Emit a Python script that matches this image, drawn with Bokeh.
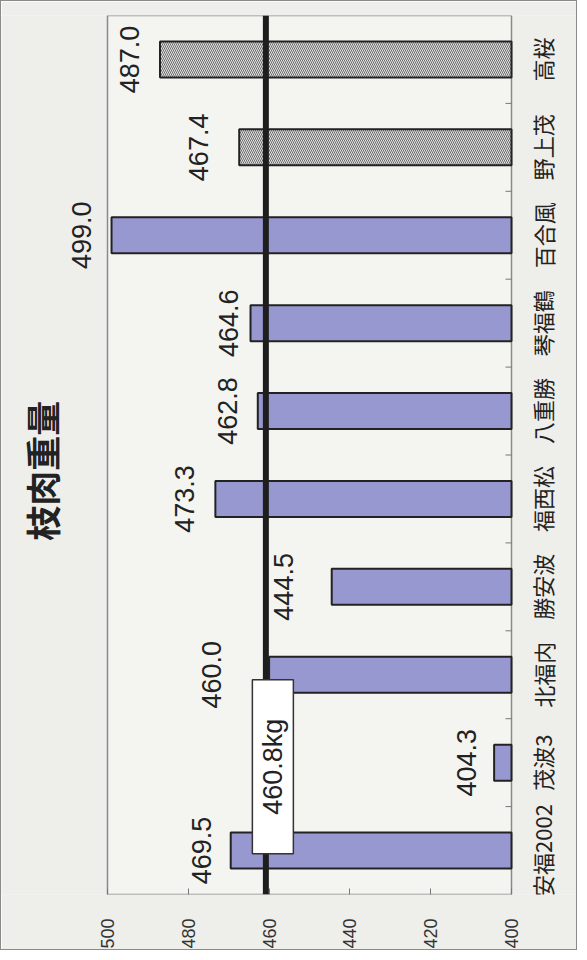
import math
from bokeh.plotting import figure
from bokeh.models import (Range1d, FixedTicker, Span, Label, LabelSet,
                          ColumnDataSource, BoxAnnotation)
from bokeh.core.properties import value
from bokeh.embed import file_html
from bokeh.resources import INLINE

# ---- data ----
categories = ["安福2002", "茂波3", "北福内", "勝安波", "福西松",
              "八重勝", "琴福鶴", "百合風", "野上茂", "高桜"]
weights = [469.5, 404.3, 460.0, 444.5, 473.3, 462.8, 464.6, 499.0, 467.4, 487.0]
bar_kind = ["solid"] * 8 + ["hatched"] * 2
average = 460.8
value_ticks = [400, 420, 440, 460, 480, 500]
title_text = "枝肉重量"

# ---- layout / style constants (pixels) ----
W, H = 577, 950
TOP, BOTTOM = 14, 57
BOX_L, BOX_R = 106, 510            # plot box edges on the canvas
label_gap_px = [17, 15, 45, 36, 18, 18, 10, 18, 28, 18]   # value-label nudges

vmin, vmax = value_ticks[0], value_ticks[-1]
scale = (BOX_R - BOX_L) / (vmax - vmin)
x_start = vmax + BOX_L / scale
x_end = vmin - (W - BOX_R) / scale
ncat = len(categories)
y_scale = (H - TOP - BOTTOM) / ncat

idx = list(range(ncat))
fills = ["#9898d0" if k == "solid" else "#e4e4e4" for k in bar_kind]
hatches = [" " if k == "solid" else "left_diagonal_line" for k in bar_kind]
labels = [f"{v:.1f}" for v in weights]
xoffs = [-(g + 3) for g in label_gap_px]

src = ColumnDataSource(dict(y=idx, right=weights, fill=fills, hatch=hatches,
                            label=labels, cat=categories, xoff=xoffs))

p = figure(width=W, height=H,
           x_range=Range1d(x_start, x_end), y_range=Range1d(-0.5, ncat - 0.5),
           output_backend="svg", toolbar_location=None,
           x_axis_location="below", y_axis_location=None,
           min_border_left=0, min_border_right=0,
           min_border_top=TOP, min_border_bottom=BOTTOM)

p.styles = {"border": "1px solid #8a8a8a"}
p.border_fill_color = "#eeeeeb"
p.background_fill_color = "#eeeeeb"
p.outline_line_color = None
p.xgrid.visible = False
p.ygrid.visible = False

# plot box
p.add_layout(BoxAnnotation(left=vmax, right=vmin, fill_color="#f4f4f1", fill_alpha=1,
                           line_color="#8a8a8a", line_width=1.5, line_alpha=1,
                           level="underlay"))

# category boundary ticks on the right edge of the box
p.ray(x=[vmin] * (ncat - 1), y=[i + 0.5 for i in idx[:-1]], length=6,
      length_units="screen", angle=math.pi, line_color="#777777", line_width=1)

p.hbar(y="y", left=vmin, right="right", height=0.41, source=src,
       fill_color="fill", hatch_pattern="hatch", hatch_color="#6a6a6a",
       hatch_scale=4, hatch_weight=1.0,
       line_color="#222222", line_width=2)

p.add_layout(Span(location=average, dimension="height",
                  line_color="#1e1e1e", line_width=6))

# value labels
p.add_layout(LabelSet(x="right", y="y", text="label", source=src,
                      angle=math.pi / 2, x_offset="xoff",
                      text_align="center", text_baseline="alphabetic",
                      text_font=value("Liberation Sans"), text_font_size="27px",
                      text_color="#222222"))

# category labels
p.add_layout(LabelSet(x=vmin, y="y", text="cat", source=src,
                      angle=math.pi / 2, x_offset=31,
                      text_align="center", text_baseline="middle",
                      text_font=value("Noto Sans CJK JP"), text_font_size="22px",
                      text_color="#222222"))

# title
p.add_layout(Label(x=40, y=4.32, x_units="screen", text=title_text, angle=math.pi / 2,
                   text_align="center", text_baseline="middle",
                   text_font="Noto Sans CJK JP", text_font_size="35px",
                   text_font_style="bold", text_color="#222222"))

# average box + text (drawn above the line)
box_x = average - 7 / scale
box_y = 1 - 4 / y_scale
p.rect(x=[box_x], y=[box_y], width=41, height=174,
       width_units="screen", height_units="screen",
       fill_color="white", line_color="#333333", line_width=1.5, level="overlay")
p.text(x=[box_x], y=[box_y], text=[f"{average}kg"], angle=math.pi / 2,
       text_align="center", text_baseline="middle",
       text_font=value("Liberation Sans"), text_font_size="27px",
       text_color="#222222", level="overlay")

xa = p.xaxis[0]
xa.ticker = FixedTicker(ticks=value_ticks)
xa.major_label_orientation = math.pi / 2
xa.major_label_text_font = "Liberation Sans"
xa.major_label_text_font_size = "18px"
xa.major_label_text_color = "#333333"
xa.axis_line_color = None
xa.major_tick_in = 6
xa.major_tick_out = 0
xa.major_tick_line_color = "#777777"
xa.minor_tick_line_color = None
xa.major_label_standoff = 24

open("out.html", "w").write(file_html(p, INLINE))
